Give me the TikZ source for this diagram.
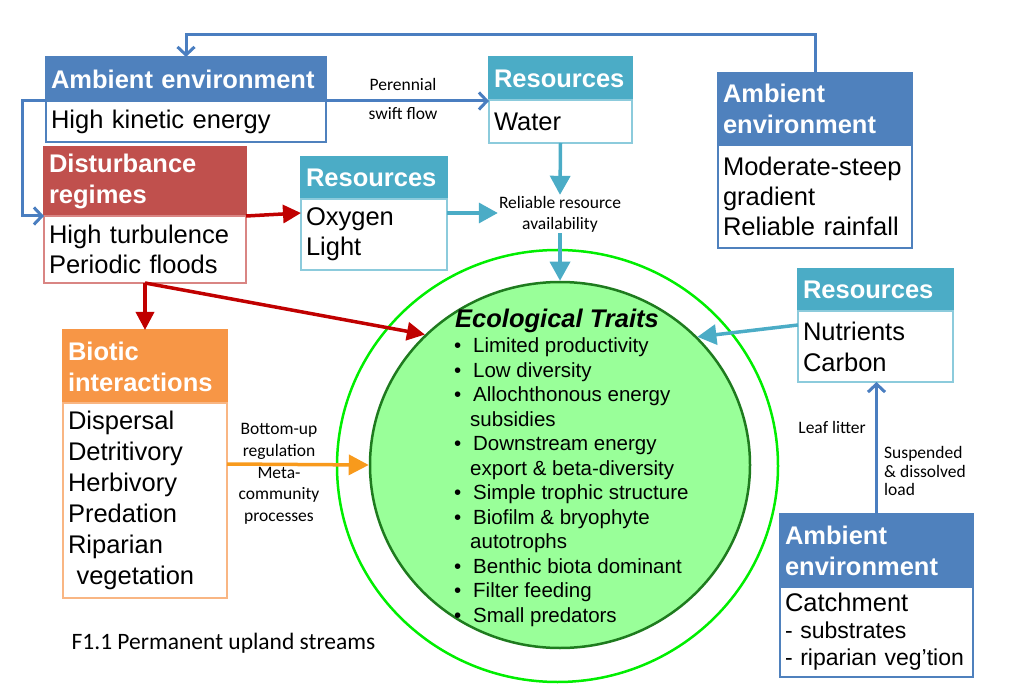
\documentclass[tikz,border=0pt]{standalone}
\usepackage{fontspec}
\setmainfont{Liberation Sans}
\newfontfamily\calib{Carlito}
\usetikzlibrary{arrows.meta,shapes.geometric,calc}
\definecolor{cBlue}{HTML}{4F81BD}
\definecolor{cBlueL}{HTML}{4A7EC0}
\definecolor{cCyan}{HTML}{4BACC6}
\definecolor{cCyanL}{HTML}{8CCBDC}
\definecolor{cRed}{HTML}{C0504D}
\definecolor{cRedL}{HTML}{D98583}
\definecolor{cRedA}{HTML}{C00000}
\definecolor{cOrange}{HTML}{F79646}
\definecolor{cOrangeL}{HTML}{F9B683}
\definecolor{cOrangeA}{HTML}{F89A1C}
\definecolor{cRing}{HTML}{00EE00}
\definecolor{cDark}{HTML}{1E7B1E}
\definecolor{cFill}{HTML}{99FF99}
\tikzset{
  hdr/.style={anchor=north west, inner xsep=5pt, inner ysep=0pt, outer sep=0pt,
    text=white, align=left, font=\bfseries\fontsize{25.5}{31}\selectfont, line width=1.2pt},
  bdy/.style={anchor=north west, inner xsep=5pt, inner ysep=0pt, outer sep=0pt,
    fill=white, align=left, font=\fontsize{25.5}{30}\selectfont, line width=1.2pt},
  lbl/.style={font=\calib\fontsize{17.5}{21}\selectfont, align=center, inner sep=1pt},
  bluearr/.style={draw=cBlueL, line width=3pt, -{Straight Barb[length=8pt,width=17pt]}},
  cyanarr/.style={draw=cCyan, line width=3.5pt, -{Triangle[length=19pt,width=20pt]}},
  redarr/.style={draw=cRedA, line width=3.5pt, -{Triangle[length=18pt,width=18pt]}},
  orarr/.style={draw=cOrangeA, line width=3.5pt, -{Triangle[length=20pt,width=20pt]}},
}
\begin{document}
\begin{tikzpicture}[x=1pt,y=-1pt]
\useasboundingbox (0,0) rectangle (1011,700);
% circles
\node[ellipse, draw=cRing, line width=2.5pt, minimum width=441pt, minimum height=432pt, inner sep=0pt] (outer) at (557.5,466) {};
\node[ellipse, draw=cDark, fill=cFill, line width=2.5pt, minimum width=380pt, minimum height=366pt, inner sep=0pt] (inner) at (560,465) {};
% traits
\node[anchor=base west, inner sep=0pt, font=\bfseries\itshape\fontsize{25.5}{28}\selectfont] (trtitle) at (455,327) {Ecological Traits};
\node[anchor=base west, inner sep=0pt, align=left, font=\fontsize{20.5}{24.5}\selectfont] (trlist) at (454,622) {%
\makebox[19pt][l]{•}Limited productivity\\
\makebox[19pt][l]{•}Low diversity\\
\makebox[19pt][l]{•}Allochthonous energy\\
\hspace*{16pt}subsidies\\
\makebox[19pt][l]{•}Downstream energy\\
\hspace*{16pt}export \& beta-diversity\\
\makebox[19pt][l]{•}Simple trophic structure\\
\makebox[19pt][l]{•}Biofilm \& bryophyte\\
\hspace*{16pt}autotrophs\\
\makebox[19pt][l]{•}Benthic biota dominant\\
\makebox[19pt][l]{•}Filter feeding\\
\makebox[19pt][l]{•}Small predators};
% boxes
\node[hdr, fill=cBlue, draw=cBlue, text width=270pt, minimum height=44pt] (aeH) at (46,57) {Ambient environment};
\node[bdy, draw=cBlue, text width=270pt, minimum height=41pt] (aeB) at (aeH.south west) {High kinetic energy};
\node[hdr, fill=cCyan, draw=cCyan, text width=133pt, minimum height=43pt] (rwH) at (489,57) {Resources};
\node[bdy, draw=cCyanL, text width=133pt, minimum height=43pt] (rwB) at (rwH.south west) {Water};
\node[hdr, fill=cBlue, draw=cBlue, text width=184pt, minimum height=72pt] (aeTH) at (718,73) {Ambient\\environment};
\node[bdy, draw=cBlue, text width=184pt, minimum height=103pt] (aeTB) at (aeTH.south west) {Moderate-steep\\gradient\\Reliable rainfall};
\node[hdr, fill=cRed, draw=cRed, text width=192pt, minimum height=69pt] (drH) at (44,147) {Disturbance\\regimes};
\node[bdy, draw=cRedL, text width=192pt, minimum height=67pt] (drB) at (drH.south west) {High turbulence\\Periodic floods};
\node[hdr, fill=cCyan, draw=cCyan, text width=136pt, minimum height=42pt] (roH) at (301,157) {Resources};
\node[bdy, draw=cCyanL, text width=136pt, minimum height=71pt] (roB) at (roH.south west) {Oxygen\\Light};
\node[hdr, fill=cOrange, draw=cOrange, text width=154pt, minimum height=73pt] (biH) at (63,330) {Biotic\\interactions};
\node[bdy, draw=cOrangeL, text width=154pt, minimum height=195pt, font=\fontsize{25.5}{31}\selectfont] (biB) at (biH.south west) {Dispersal\\Detritivory\\Herbivory\\Predation\\Riparian\\\ vegetation};
\node[hdr, fill=cCyan, draw=cCyan, text width=145pt, minimum height=42pt] (rnH) at (798,269) {Resources};
\node[bdy, draw=cCyanL, text width=145pt, minimum height=71pt, font=\fontsize{25.5}{31}\selectfont] (rnB) at (rnH.south west) {Nutrients\\Carbon};
\node[hdr, fill=cBlue, draw=cBlue, text width=183pt, minimum height=73pt] (aeCH) at (780,514) {Ambient\\environment};
\node[bdy, draw=cBlue, text width=183pt, minimum height=90pt, font=\fontsize{23}{27}\selectfont] (aeCB) at (aeCH.south west) {{\fontsize{25.5}{27}\selectfont Catchment}\\- substrates\\- riparian veg’tion};
% labels
\node[lbl, font=\calib\fontsize{17.5}{29}\selectfont] (lpf) at (403,99) {Perennial\\swift flow};
\node[lbl] (rra) at (560,214) {Reliable resource\\availability};
\node[lbl, font=\calib\fontsize{17.5}{21.7}\selectfont] (lbu) at (279,474) {Bottom-up\\regulation\\Meta-\\community\\processes};
\node[lbl, anchor=east] (lll) at (867,427) {Leaf litter};
\node[lbl, anchor=west, align=left, font=\calib\fontsize{17.5}{18.5}\selectfont] (lsd) at (883,471) {Suspended\\\& dissolved\\load};
\node[font=\calib\fontsize{23.5}{26}\selectfont, inner sep=0pt] (cap) at (223.5,643) {F1.1 Permanent upland streams};
% connectors
\draw[bluearr] (aeTH.north) -- ++(0,-38) -| (aeH.north);
\draw[bluearr] (aeH.south west) -- ++(-24,0) |- (drB.north west);
\draw[bluearr] (aeH.south east) -- (aeH.south east -| rwH.south west);
\draw[bluearr] (aeCH.north) -- (aeCH.north |- rnB.south);
\draw[cyanarr] (rwB.south) -- (rra.north);
\draw[cyanarr] (rra.south) -- (inner.north);
\draw[cyanarr] ($(roB.north west)+(146,14)$) -- (rra.west |- 0,213);
\draw[cyanarr] ($(rnB.north west)+(0,14)$) -- (inner.43.5);
\draw[redarr] (drB.north east) -- ($(roB.north west)+(0,14)$);
\draw[redarr] (drB.south) -- (biH.north);
\draw[redarr] (drB.south) -- (inner.136.5);
\draw[orarr] ($(biB.north east)+(0,61)$) -- (inner.west);
\end{tikzpicture}
\end{document}
